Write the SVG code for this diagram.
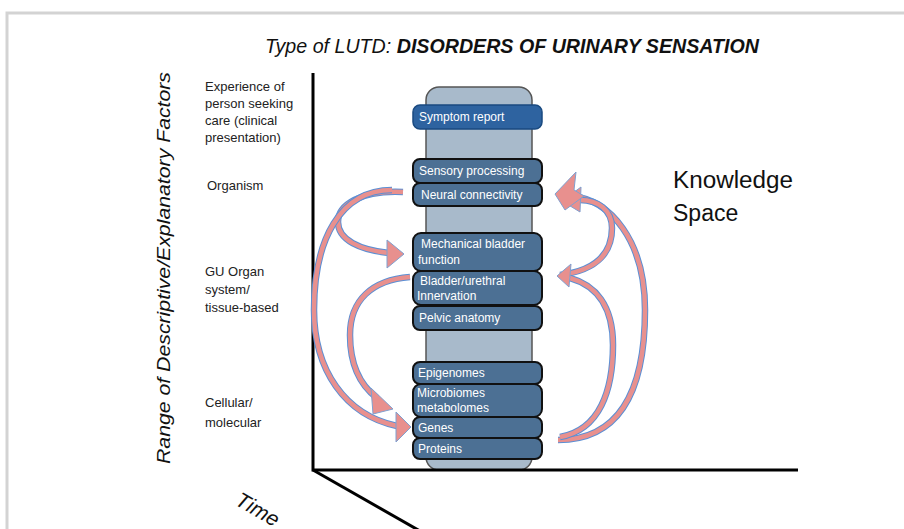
<svg xmlns="http://www.w3.org/2000/svg" width="904" height="529" viewBox="0 0 904 529">
<style>
.lbl{font-family:"Liberation Sans",Arial,sans-serif;font-size:13px;fill:#222}
.bx{fill:#4c7094;stroke:#111;stroke-width:2}
.bt{font-family:"Liberation Sans",Arial,sans-serif;font-size:12px;fill:#fff}
.ax{stroke:#000;stroke-width:3;fill:none}
.ao{fill:none;stroke:#5b8fd4;stroke-width:6.5;stroke-linecap:butt}
.ai{fill:none;stroke:#e8908e;stroke-width:4.5;stroke-linecap:butt}
.ah{fill:#e8908e;stroke:#7fa0d0;stroke-width:1}
</style>
<rect width="904" height="529" fill="#fff"/>
<path d="M7,529 V13 H904" fill="none" stroke="#d3d3d3" stroke-width="3"/>
<text x="512" y="53" text-anchor="middle" font-family="Liberation Sans,Arial,sans-serif" font-size="21" font-style="italic" fill="#111" textLength="494" lengthAdjust="spacingAndGlyphs">Type of LUTD: <tspan font-weight="bold">DISORDERS OF URINARY SENSATION</tspan></text>
<text transform="translate(170,268) rotate(-90)" text-anchor="middle" font-family="Liberation Sans,Arial,sans-serif" font-size="19" font-style="italic" fill="#111" textLength="392" lengthAdjust="spacingAndGlyphs">Range of Descriptive/Explanatory Factors</text>
<g id="levels">
<text class="lbl" x="205" y="91">Experience of</text>
<text class="lbl" x="205" y="108">person seeking</text>
<text class="lbl" x="205" y="125">care (clinical</text>
<text class="lbl" x="205" y="142">presentation)</text>
<text class="lbl" x="207" y="190">Organism</text>
<text class="lbl" x="205" y="276">GU Organ</text>
<text class="lbl" x="205" y="294">system/</text>
<text class="lbl" x="205" y="312">tissue-based</text>
<text class="lbl" x="205" y="407">Cellular/</text>
<text class="lbl" x="205" y="427">molecular</text>
</g>
<g id="column">
<rect x="426" y="87" width="106" height="383" rx="13" fill="#a8bacb" stroke="#555" stroke-width="1.5"/>
</g>
<g id="axes">
<path class="ax" d="M313,73 V470 H798"/>
<path class="ax" d="M313,470 L420,531"/>
<text transform="translate(234,504) rotate(30)" font-family="Liberation Sans,Arial,sans-serif" font-size="21" font-style="italic" fill="#111">Time</text>
</g>
<g id="symptom"><rect x="413" y="105" width="129" height="24" rx="7" fill="#2e63a0" stroke="#1a4a80" stroke-width="1.5"/><text class="bt" x="419" y="121">Symptom report</text></g>
<g id="sensory"><rect class="bx" x="413" y="159" width="129" height="24" rx="7"/><text class="bt" x="419" y="175">Sensory processing</text></g>
<g id="neural"><rect class="bx" x="413" y="183" width="129" height="23" rx="7"/><text class="bt" x="421" y="199">Neural connectivity</text></g>
<g id="mechanical"><rect class="bx" x="413" y="233" width="129" height="38" rx="8"/><text class="bt" x="421" y="248">Mechanical bladder</text><text class="bt" x="418" y="264">function</text></g>
<g id="innervation"><rect class="bx" x="413" y="271" width="129" height="34" rx="8"/><text class="bt" x="420" y="285">Bladder/urethral</text><text class="bt" x="417" y="300">Innervation</text></g>
<g id="pelvic"><rect class="bx" x="413" y="306" width="129" height="24" rx="7"/><text class="bt" x="419" y="322">Pelvic anatomy</text></g>
<g id="epigenomes"><rect class="bx" x="413" y="362" width="129" height="22" rx="7"/><text class="bt" x="418" y="377">Epigenomes</text></g>
<g id="microbiomes"><rect class="bx" x="413" y="384" width="129" height="33" rx="8"/><text class="bt" x="417" y="397">Microbiomes</text><text class="bt" x="417" y="412">metabolomes</text></g>
<g id="genes"><rect class="bx" x="413" y="417" width="129" height="21" rx="7"/><text class="bt" x="418" y="432">Genes</text></g>
<g id="proteins"><rect class="bx" x="413" y="438" width="129" height="21" rx="7"/><text class="bt" x="418" y="453">Proteins</text></g>
<text x="673" y="188" font-family="Liberation Sans,Arial,sans-serif" font-size="23" fill="#111" textLength="120" lengthAdjust="spacingAndGlyphs">Knowledge</text>
<text x="673" y="221" font-family="Liberation Sans,Arial,sans-serif" font-size="23" fill="#111">Space</text>
<g id="connectors">
<path class="ao" d="M403,192 C360,190 338,205 338,222 C338,240 360,250 389,253"/>
<path class="ai" d="M403,192 C360,190 338,205 338,222 C338,240 360,250 389,253"/>
<polygon class="ah" points="387,240 404,254 387,268"/>
<path class="ao" d="M392,190 C340,190 314,240 314,310 C314,370 345,415 397,426"/>
<path class="ai" d="M392,190 C340,190 314,240 314,310 C314,370 345,415 397,426"/>
<polygon class="ah" points="396,412 411,427 396,442"/>
<path class="ao" d="M410,277 C372,280 350,300 350,335 C350,365 360,385 377,398"/>
<path class="ai" d="M410,277 C372,280 350,300 350,335 C350,365 360,385 377,398"/>
<polygon class="ah" points="371,388 393,409 373,414"/>
<path class="ao" d="M558,440 C620,440 645,390 645,310 C645,240 610,200 572,196"/>
<path class="ai" d="M558,440 C620,440 645,390 645,310 C645,240 610,200 572,196"/>
<path class="ao" d="M560,275 C600,270 612,250 612,228 C612,210 598,200 580,200"/>
<path class="ai" d="M560,275 C600,270 612,250 612,228 C612,210 598,200 580,200"/>
<polygon class="ah" points="562,201 581,187 580,212"/>
<polygon class="ah" points="555,194 576,172 574,190 584,196 565,210"/>
<path class="ao" d="M560,437 C600,430 613,390 613,345 C613,305 595,285 570,278"/>
<path class="ai" d="M560,437 C600,430 613,390 613,345 C613,305 595,285 570,278"/>
<polygon class="ah" points="557,276 571,264 569,287"/>
</g>
</svg>
